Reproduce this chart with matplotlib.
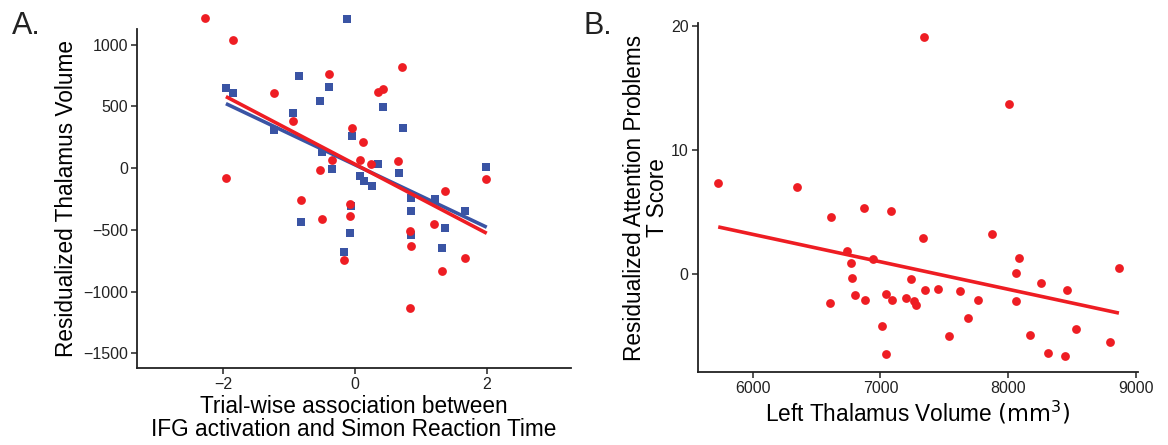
import numpy as np
import matplotlib
matplotlib.use("Agg")
import matplotlib.pyplot as plt

plt.rcParams['font.family'] = ['Liberation Sans', 'DejaVu Sans']

# ---------------- Panel A data ----------------
a_red_x = [-2.275, -1.854, -1.231, -0.40, -0.942, -0.354, -0.537, -1.96, -0.82, -0.50,
           0.719, 0.345, 0.42, -0.05, 0.126, 0.076, 0.248, 0.658, 1.99, 0.84,
           0.846, 0.835, 1.363, 1.205, 1.318, 1.672, -0.07, -0.08, -0.17]
a_red_y = [1220, 1037, 607, 764, 381, 70, -11, -76, -254, -411,
           823, 620, 642, 329, 213, 70, 32, 59, -87, -510,
           -627, -1134, -184, -449, -829, -727, -292, -384, -745]
a_blue_x = [-1.96, -1.854, -0.846, -0.40, -0.53, -0.942, -1.231, -0.50, -0.35, -0.816,
            -0.126, 0.426, 0.725, -0.046, 0.35, 0.664, 0.08, 1.996, 0.132, 0.254,
            0.846, 0.846, 0.846, 1.216, 1.368, 1.318, 1.676, -0.065, -0.08, -0.167]
a_blue_y = [650, 607, 745, 656, 543, 445, 310, 130, -8, -437,
            1207, 499, 324, 259, 32, -36, -65, 11, -103, -146,
            -243, -348, -543, -251, -481, -643, -346, -303, -522, -678]
# fitted lines (x range, y at ends)
a_fit_x = [-1.96, 2.0]
a_red_fit = [580, -527]
a_blue_fit = [523, -478]
a_xticks = [-2, 0, 2]
a_yticks = [1000, 500, 0, -500, -1000, -1500]

# ---------------- Panel B data ----------------
b_x = [5728, 6344, 6615, 6873, 7085, 7343, 7335, 6740, 6772, 6941,
       6779, 7239, 6602, 6800, 6881, 7045, 7087, 7197, 7265, 7275,
       7348, 7450, 7009, 7043, 7538, 8008, 7875, 8081, 8060, 8256,
       8457, 8866, 7622, 7760, 8060, 7685, 8170, 8527, 8308, 8446, 8793]
b_y = [7.31, 7.02, 4.6, 5.35, 5.06, 19.1, 2.88, 1.88, 0.89, 1.27,
       -0.32, -0.4, -2.28, -1.64, -2.04, -1.59, -2.1, -1.94, -2.12, -2.48,
       -1.23, -1.18, -4.17, -6.45, -4.97, 13.73, 3.28, 1.35, 0.08, -0.73,
       -1.23, 0.51, -1.35, -2.04, -2.18, -3.55, -4.9, -4.44, -6.32, -6.59, -5.46]
b_fit_x = [5731, 8866]
b_fit_y = [3.81, -3.12]
b_xticks = [6000, 7000, 8000, 9000]
b_yticks = [0, 10, 20]

RED = '#EE1D23'
BLUE = '#3A54A4'
AXC = '#222222'
LABEL_FS = 16.3

fig = plt.figure(figsize=(11.68, 4.45), dpi=100)
axA = fig.add_axes([0.1173, 0.173, 0.3716, 0.762])
axB = fig.add_axes([0.5973, 0.164, 0.3770, 0.784])

for ax in (axA, axB):
    for s in ('top', 'right'):
        ax.spines[s].set_visible(False)
    for s in ('left', 'bottom'):
        ax.spines[s].set_color(AXC)
        ax.spines[s].set_linewidth(1.3)
    ax.tick_params(axis='both', direction='out', length=4, width=1.1, color=AXC,
                   labelsize=11.5, labelcolor='#222222', pad=2.5)

# Panel A
axA.scatter(a_blue_x, a_blue_y, marker='s', s=30, color=BLUE, linewidths=0, zorder=3, clip_on=False)
axA.scatter(a_red_x, a_red_y, marker='o', s=40, color=RED, linewidths=0, zorder=3, clip_on=False)
axA.plot(a_fit_x, a_blue_fit, color=BLUE, lw=2.6, zorder=4, solid_capstyle='butt')
axA.plot(a_fit_x, a_red_fit, color=RED, lw=2.6, zorder=4, solid_capstyle='butt')
axA.set_xlim(-3.31, 3.28)
axA.set_ylim(-1618, 1128)
axA.set_xticks(a_xticks)
axA.set_xticklabels(['\u22122', '0', '2'])
axA.set_yticks(a_yticks)
axA.set_yticklabels(['1000', '500', '0', '\u2212500', '\u22121000', '\u22121500'])
axA.set_ylabel('Residualized Thalamus Volume', fontsize=LABEL_FS, labelpad=4)
axA.set_xlabel('Trial-wise association between\nIFG activation and Simon Reaction Time',
               fontsize=LABEL_FS, labelpad=2, linespacing=1.0)

# Panel B
axB.scatter(b_x, b_y, marker='o', s=40, color=RED, linewidths=0, zorder=3, clip_on=False)
axB.plot(b_fit_x, b_fit_y, color=RED, lw=2.6, zorder=4, solid_capstyle='butt')
axB.set_xlim(5570, 9015)
axB.set_ylim(-7.86, 20.2)
axB.set_xticks(b_xticks)
axB.set_yticks(b_yticks)
axB.set_ylabel('Residualized Attention Problems\nT Score', fontsize=LABEL_FS, labelpad=1,
               linespacing=1.05)
axB.set_xlabel('Left Thalamus Volume $(\\mathrm{mm}^3)$', fontsize=LABEL_FS, labelpad=2)

fig.text(0.010, 0.975, 'A.', fontsize=22, va='top', ha='left', color='#222222')
fig.text(0.500, 0.975, 'B.', fontsize=22, va='top', ha='left', color='#222222')

fig.savefig('out.png', dpi=100)
